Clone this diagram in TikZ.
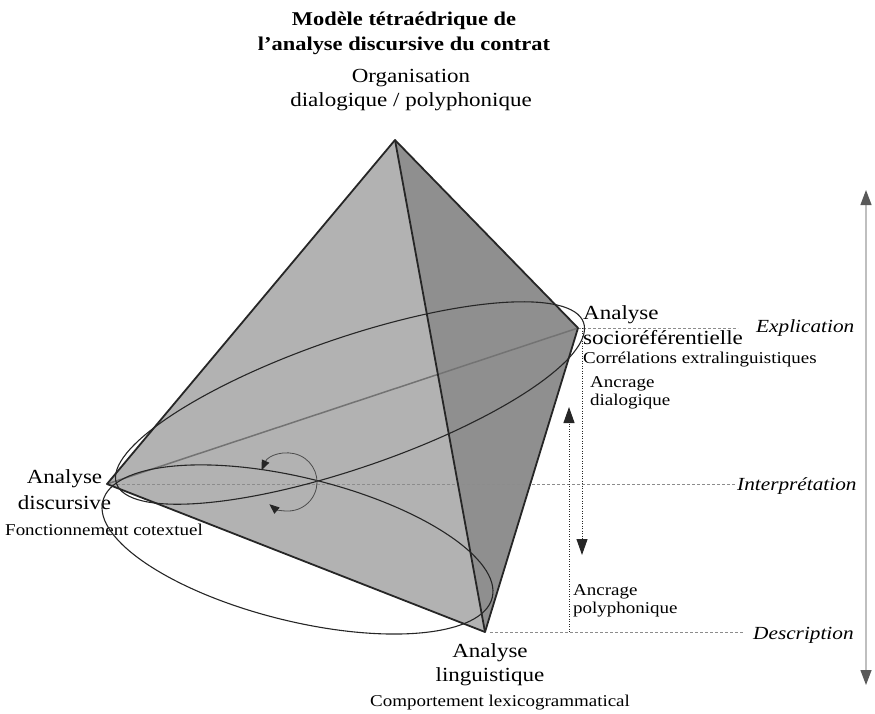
\documentclass[tikz,border=0pt]{standalone}
\usepackage{fontspec}
\setmainfont{Liberation Serif}[FakeStretch=1.15]
\usepackage{tikz}
\usetikzlibrary{arrows.meta, calc}
\tikzstyle{edge} = [line width=1.8pt, black!85, line join=round]
\tikzstyle{hidden} = [line width=1.5pt, black!55]
\tikzstyle{orbit} = [line width=1.1pt, black!85]
\tikzstyle{level} = [line width=0.7pt, black!45, dash pattern=on 3pt off 2pt]
\tikzstyle{anchorage} = [line width=1pt, black!85, dash pattern=on 1pt off 1.5pt, -{Triangle[length=16pt,width=11pt]}]
\tikzstyle{turn} = [line width=0.8pt, black!70, {Triangle[length=10pt,width=8pt,color=black!85]}-{Triangle[length=10pt,width=8pt,color=black!85]}]
\tikzstyle{gauge} = [line width=1.3pt, black!25, {Triangle[length=15pt,width=11pt,color=black!65]}-{Triangle[length=15pt,width=11pt,color=black!65]}]
\tikzstyle{heading} = [font=\bfseries\fontsize{19.5}{25.7}\selectfont, inner sep=0pt, align=center, anchor=base]
\tikzstyle{pole} = [font=\fontsize{20}{25}\selectfont, inner sep=0pt, align=center, anchor=base]
\tikzstyle{role} = [font=\fontsize{16.5}{18}\selectfont, inner sep=0pt, align=left, anchor=base west]
\tikzstyle{tier} = [font=\itshape\fontsize{18.5}{22}\selectfont, inner sep=0pt, anchor=base west]

\begin{document}
\begin{tikzpicture}[x=1pt, y=-1pt]
\useasboundingbox (0,0) rectangle (875,713);

% Vertices of the tetrahedron:
\coordinate (vtop) at (395,140);
\coordinate (vsoc) at (578,328);
\coordinate (vdis) at (107,484);
\coordinate (vlin) at (485,632);
\coordinate (mid1) at (350,403);
\coordinate (mid2) at (297.5,549.5);
\coordinate (circ) at (288,482);

% Faces:
\fill[black!30] (vtop) -- (vdis) -- (vlin) -- cycle;
\fill[black!44] (vtop) -- (vsoc) -- (vlin) -- cycle;
\draw[hidden] (vdis) -- (vsoc);

% Titles (base = last line):
\node(title)[heading] at (404,50.7) {Modèle tétraédrique de\\l’analyse discursive du contrat};
\node(organ)[pole, font=\fontsize{20}{23.3}\selectfont] at (411,106) {Organisation\\dialogique / polyphonique};

% Vertex labels:
\node(socnm)[pole, align=left, anchor=base west] at (583,344.3) {Analyse\\socioréférentielle};
\node(corr)[role] at (583,363.5) {Corrélations extralinguistiques};
\node(disnm)[pole, font=\fontsize{20}{26}\selectfont] at (64.5,509) {Analyse\\discursive};
\node(fonc)[role] at (5,535.7) {Fonctionnement cotextuel};
\node(linnm)[pole, font=\fontsize{20}{24.7}\selectfont] at (490,681.7) {Analyse\\linguistique};
\node(comp)[role, anchor=base] at (500,706) {Comportement lexicogrammatical};

% Levels:
\node(explic)[tier] at (756,332) {Explication};
\node(interp)[tier] at (737,490) {Interprétation};
\node(descr)[tier] at (753,639) {Description};
\draw[level, shorten >=18pt] (vsoc) -- (vsoc -| explic.west);
\draw[level, shorten >=2pt] (vdis) -- (vdis -| interp.west);
\draw[level, shorten <=5pt, shorten >=10pt] (vlin) -- (vlin -| descr.west);

% Ellipses:
\draw[orbit, rotate around={19:(mid1)}] (mid1) ellipse [x radius=247pt, y radius=65pt];
\draw[orbit, rotate around={-13.9:(mid2)}] (mid2) ellipse [x radius=200.6pt, y radius=71.6pt];

% Edges:
\draw[edge] (vtop) -- (vdis) -- (vlin) -- (vsoc) -- cycle;
\draw[edge] (vtop) -- (vlin);

% Rotation:
\draw[turn] ([shift={(156:29pt)}]circ) arc[start angle=156, end angle=-130, radius=29pt];

% Anchorages:
\coordinate (dialtip) at (582,555);
\coordinate (polytip) at (569,407);
\draw[anchorage] (vsoc -| dialtip) -- (dialtip);
\draw[anchorage] (vlin -| polytip) -- (polytip);
\node(dial)[role, font=\fontsize{16.5}{17.5}\selectfont] at (590,405) {Ancrage\\dialogique};
\node(poly)[role] at (573,613) {Ancrage\\polyphonique};

% Scale:
\coordinate (gtop) at (866,190);
\coordinate (gbot) at (866,685);
\draw[gauge] (gbot) -- (gtop);

\end{tikzpicture}
\end{document}
